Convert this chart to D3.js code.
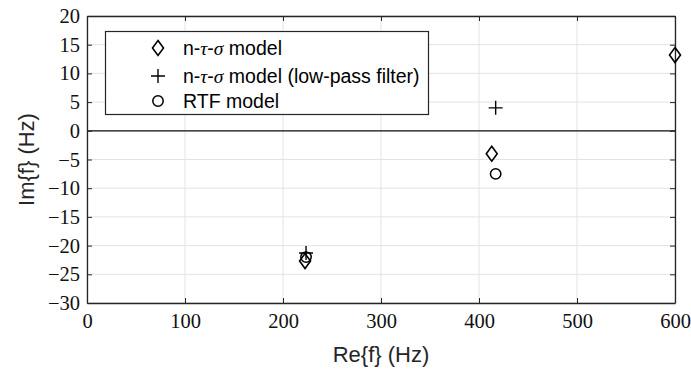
<!DOCTYPE html>
<html>
<head>
<meta charset="utf-8">
<script src="https://cdn.jsdelivr.net/npm/d3@7"></script>
<style>
  body { margin: 0; background: #fff; }
  svg { display: block; }
</style>
</head>
<body>
<div id="chart"></div>
<script>
// eigenfrequencies (Re, Im) in Hz
const ntsRe = [222.5, 413, 600];
const ntsIm = [-22.7, -4.0, 13.2];
const lowpassRe = [223.5, 417];
const lowpassIm = [-21.3, 4.0];
const rtfRe = [223.5, 417];
const rtfIm = [-22.0, -7.5];

const xTicks = [0, 100, 200, 300, 400, 500, 600];
const yTicks = [20, 15, 10, 5, 0, -5, -10, -15, -20, -25, -30];

const W = 691, H = 371;
const margin = {left: 87, right: 16, top: 16, bottom: 68};

const svg = d3.select('#chart').append('svg')
    .attr('width', W)
    .attr('height', H)

const x = d3.scaleLinear().domain([0, 600]).range([margin.left, W - margin.right])
const y = d3.scaleLinear().domain([-30, 20]).range([H - margin.bottom, margin.top])

const axisCol = '#262626'
const serif = '"Liberation Serif", "DejaVu Serif", serif'
const sans = '"Liberation Sans", Arial, sans-serif'

// grid
svg.append('g').selectAll('line.gx')
    .data(xTicks)
    .join('line')
    .attr('x1', d => x(d)).attr('x2', d => x(d))
    .attr('y1', y(-30)).attr('y2', y(20))
    .attr('stroke', '#e3e3e3').attr('stroke-width', 1)
svg.append('g').selectAll('line.gy')
    .data(yTicks)
    .join('line')
    .attr('y1', d => y(d)).attr('y2', d => y(d))
    .attr('x1', x(0)).attr('x2', x(600))
    .attr('stroke', '#e3e3e3').attr('stroke-width', 1)

// zero line
svg.append('line')
    .attr('x1', x(0)).attr('x2', x(600))
    .attr('y1', y(0)).attr('y2', y(0))
    .attr('stroke', '#111').attr('stroke-width', 1.2)

const fmt = d => d < 0 ? '\u2212' + Math.abs(d) : String(d)

// axes, ticks pointing inward
const axBottom = svg.append('g')
    .attr('transform', `translate(0,${y(-30)})`)
    .call(d3.axisBottom(x).tickValues(xTicks).tickFormat(fmt).tickSizeInner(-5).tickSizeOuter(0).tickPadding(10))
const axLeft = svg.append('g')
    .attr('transform', `translate(${x(0)},0)`)
    .call(d3.axisLeft(y).tickValues(yTicks).tickFormat(fmt).tickSizeInner(-5).tickSizeOuter(0).tickPadding(7))
const axTop = svg.append('g')
    .attr('transform', `translate(0,${y(20)})`)
    .call(d3.axisTop(x).tickValues(xTicks).tickFormat('').tickSizeInner(-5).tickSizeOuter(0))
const axRight = svg.append('g')
    .attr('transform', `translate(${x(600)},0)`)
    .call(d3.axisRight(y).tickValues(yTicks).tickFormat('').tickSizeInner(-5).tickSizeOuter(0))

for (const a of [axBottom, axLeft, axTop, axRight]) {
    a.attr('font-family', serif).attr('font-size', 20.5)
    a.selectAll('path.domain').attr('stroke', axisCol).attr('stroke-width', 1.3)
    a.selectAll('.tick line').attr('stroke', axisCol).attr('stroke-width', 1)
    a.selectAll('.tick text').attr('fill', '#111')
}

// axis labels
svg.append('text')
    .attr('x', (x(0) + x(600)) / 2).attr('y', 362)
    .attr('text-anchor', 'middle')
    .style('font-family', sans).style('font-size', '22px').style('fill', axisCol)
    .text('Re{f} (Hz)')
svg.append('text')
    .attr('transform', `translate(34,${(y(-30) + y(20)) / 2}) rotate(-90)`)
    .attr('text-anchor', 'middle')
    .style('font-family', sans).style('font-size', '22px').style('fill', axisCol)
    .text('Im{f} (Hz)')

// markers
const diamondPath = 'M0,-7.5L5.5,0L0,7.5L-5.5,0Z'
const plusPath = 'M-7,0H7M0,-7V7'

svg.append('g').selectAll('path')
    .data(ntsRe.map((d, i) => [d, ntsIm[i]]))
    .join('path')
    .attr('transform', d => `translate(${x(d[0])},${y(d[1])})`)
    .attr('d', diamondPath)
    .attr('fill', 'none').attr('stroke', '#000').attr('stroke-width', 1.6)

svg.append('g').selectAll('path')
    .data(lowpassRe.map((d, i) => [d, lowpassIm[i]]))
    .join('path')
    .attr('transform', d => `translate(${x(d[0])},${y(d[1])})`)
    .attr('d', plusPath)
    .attr('fill', 'none').attr('stroke', '#000').attr('stroke-width', 1.4)

svg.append('g').selectAll('circle')
    .data(rtfRe.map((d, i) => [d, rtfIm[i]]))
    .join('circle')
    .attr('cx', d => x(d[0])).attr('cy', d => y(d[1]))
    .attr('r', 5.2)
    .attr('fill', 'none').attr('stroke', '#000').attr('stroke-width', 1.5)

// legend
const leg = svg.append('g')
leg.append('rect')
    .attr('x', 105.5).attr('y', 31.5).attr('width', 323).attr('height', 83)
    .attr('fill', '#fff').attr('stroke', axisCol).attr('stroke-width', 1.2)

const legRows = [48, 76, 101]
const mx = 158, tx = 183

leg.append('path').attr('transform', `translate(${mx},${legRows[0]})`).attr('d', diamondPath)
    .attr('fill', 'none').attr('stroke', '#000').attr('stroke-width', 1.6)
leg.append('path').attr('transform', `translate(${mx},${legRows[1]})`).attr('d', plusPath)
    .attr('fill', 'none').attr('stroke', '#000').attr('stroke-width', 1.4)
leg.append('circle').attr('cx', mx).attr('cy', legRows[2]).attr('r', 5.2)
    .attr('fill', 'none').attr('stroke', '#000').attr('stroke-width', 1.5)

const addLabel = (row, suffix) => {
    const t = leg.append('text').attr('x', tx).attr('y', row).attr('dy', '0.35em')
        .style('font-family', sans).style('font-size', '19.5px').style('fill', '#000')
    t.append('tspan').text('n-')
    t.append('tspan').text('\u03c4').style('font-family', '"Liberation Serif", serif').style('font-style', 'italic')
    t.append('tspan').text('-')
    t.append('tspan').text('\u03c3').style('font-family', '"Liberation Serif", serif').style('font-style', 'italic')
    t.append('tspan').text(suffix)
}
addLabel(legRows[0], ' model')
addLabel(legRows[1], ' model (low-pass filter)')
leg.append('text').attr('x', tx).attr('y', legRows[2]).attr('dy', '0.35em')
    .style('font-family', sans).style('font-size', '19.5px').style('fill', '#000')
    .text('RTF model')
</script>
</body>
</html>
